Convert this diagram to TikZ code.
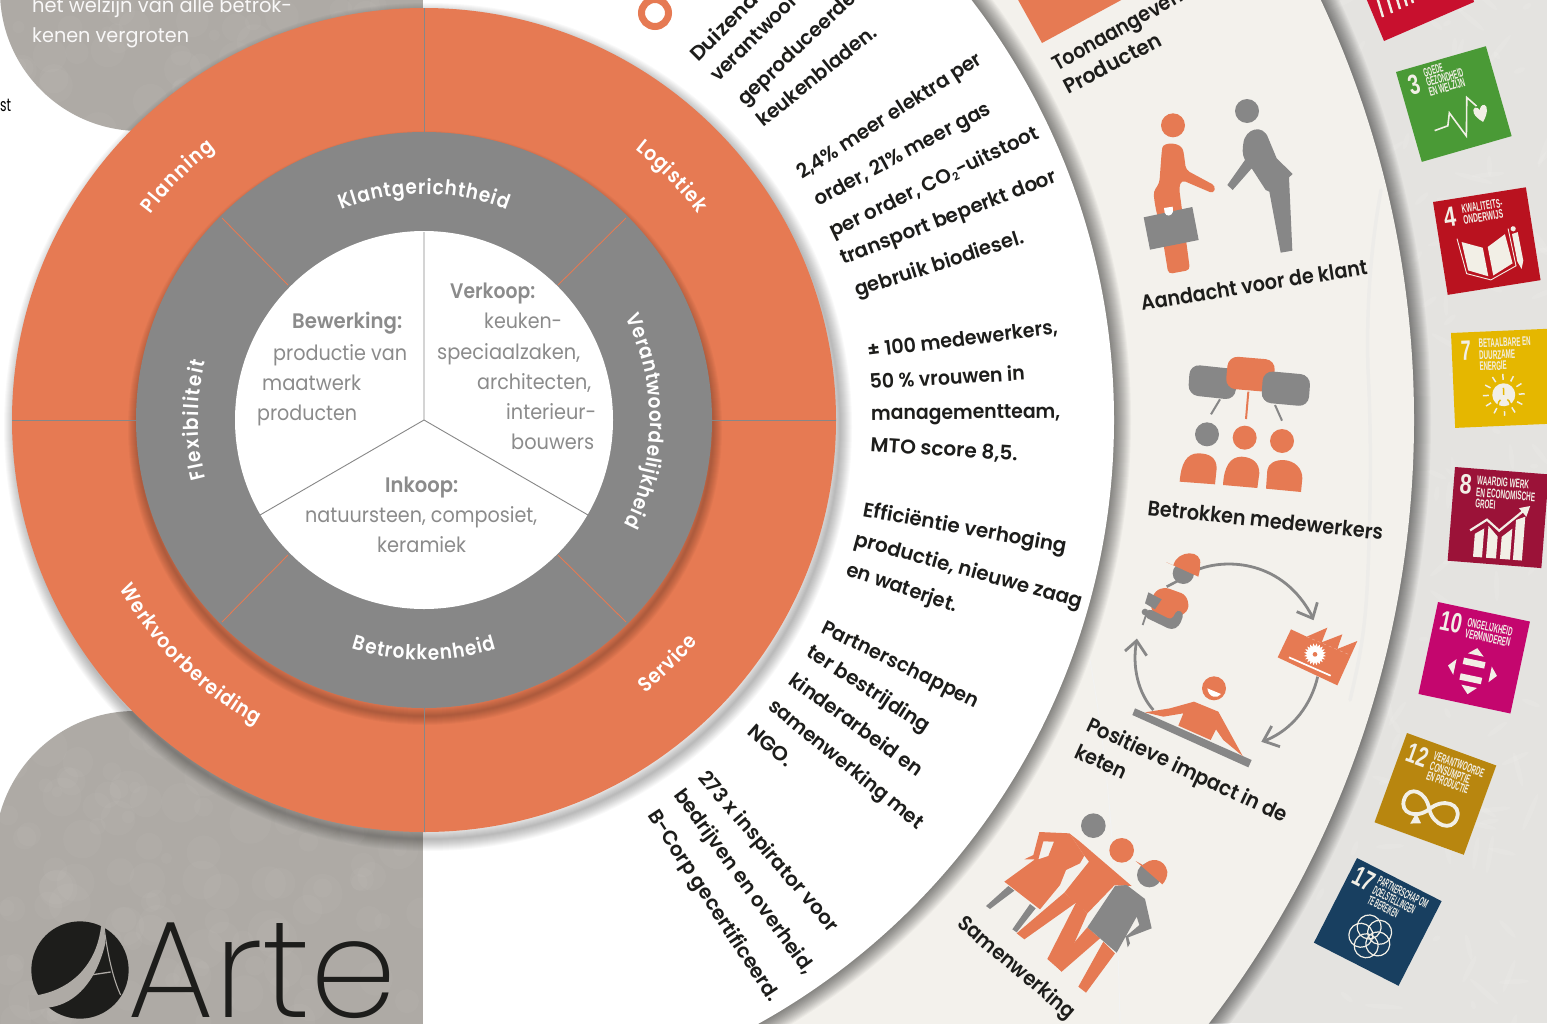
\documentclass[tikz,border=0pt]{standalone}
\usepackage{fontspec}
\usepackage{graphicx}
\usetikzlibrary{decorations.text,shapes.geometric}
\setmainfont{Poppins}
\newfontfamily\medf{Poppins}[UprightFont=* Medium]
\newfontfamily\semif{Poppins}[UprightFont=* SemiBold]
\newfontfamily\ringf{Poppins}[UprightFont=* SemiBold,FakeStretch=0.9]
\newfontfamily\thinf{Poppins}[UprightFont=* ExtraLight]
\newfontfamily\sdgf{Liberation Sans}[UprightFont=* Bold]
\definecolor{orng}{HTML}{E67A53}
\definecolor{grayr}{HTML}{878787}
\definecolor{stonedk}{HTML}{AEAAA5}
\definecolor{stonelt}{HTML}{E4E3E0}
\definecolor{cream}{HTML}{F3F1EC}
\definecolor{inktext}{HTML}{1D1D1B}
\definecolor{graytxt}{HTML}{8B8B8B}
\definecolor{sdgtxt}{HTML}{F2EFE6}
\definecolor{sdgca}{HTML}{C8102E}
\definecolor{sdgc3}{HTML}{4A9A36}
\definecolor{sdgc4}{HTML}{B9121F}
\definecolor{sdgc7}{HTML}{E5B700}
\definecolor{sdgc8}{HTML}{9B1238}
\definecolor{sdgc10}{HTML}{C4066E}
\definecolor{sdgc12}{HTML}{B8860F}
\definecolor{sdgc17}{HTML}{183F60}
\newsavebox\fwbox
\newlength\fwlen
\newcommand\fw[2]{\sbox\fwbox{#2}\setlength\fwlen{\wd\fwbox}\pgfmathsetmacro\fwr{(#1)/\the\fwlen}\scalebox{\fwr}[1]{\usebox\fwbox}}
\newcounter{tn}
\newcommand\slanted[6]{\stepcounter{tn}\pgfmathsetmacro\ang{atan2((#3)-(#5),(#4)-(#2))}\pgfmathsetmacro\len{veclen((#4)-(#2),(#3)-(#5))}\node[#1,rotate=\ang,anchor=base west,inner sep=0pt] (t\thetn) at (#2,#3) {\fw{\len}{#6}};}
\newcommand\softshadow[5]{\foreach \w in {2,4,...,#4}{\draw[black,opacity=#5,line width=\w pt] (#1,#2) circle[radius=#3pt];}}
\newcommand\arclabel[4]{\path[decorate,decoration={text along path,text={|\color{white}\ringf\fontsize{20.5}{22}\selectfont|#4},text align={fit to path}}] (#2:#1pt) arc[start angle=#2,end angle=#3,radius=#1pt];}
\newcommand\sdgnum[4]{\stepcounter{tn}\node[sdgnumf,anchor=base west,inner sep=0pt] (t\thetn) at (#1,#2) {\fw{#3}{#4}};}
\newcommand\sdgt[4]{\stepcounter{tn}\node[sdgtxtf,anchor=base west,inner sep=0pt] (t\thetn) at (#1,#2) {\fw{#3}{#4}};}
\tikzset{
  blk/.style={font=\semif\fontsize{20}{24}\selectfont,text=inktext},
  lbl/.style={font=\semif\fontsize{21}{24}\selectfont,text=inktext},
  gtx/.style={font=\fontsize{21}{24}\selectfont,text=graytxt},
  gtb/.style={font=\semif\fontsize{21}{24}\selectfont,text=graytxt},
  wht/.style={font=\fontsize{20}{24}\selectfont,text=white!92!stonedk},
  blkplain/.style={font=\fontsize{18}{20}\selectfont,text=black},
  sdgnumf/.style={font=\sdgf\fontsize{28}{28}\selectfont,text=sdgtxt,transform shape},
  sdgtxtf/.style={font=\sdgf\fontsize{12.5}{13}\selectfont,text=sdgtxt,transform shape},
  zoomed/.style={x=0.33333pt,y=-0.33333pt},
  arcg/.style={draw=grayr,line width=2.8pt,line cap=butt},
  sdgw/.style={fill=sdgtxt,draw=none},
  sdgl/.style={draw=sdgtxt,fill=none}
}
\begin{document}
\begin{tikzpicture}[x=1pt,y=-1pt]
\useasboundingbox (0,0) rectangle (1547,1023);
\begin{scope}
\clip (0,0) rectangle (1547,1023);
\fill[white] (0,0) rectangle (1547,1023);
% right half: stone, cream ring, white ring
\begin{scope}
\clip (423,0) rectangle (1547,1023);
\fill[stonelt] (423,0) rectangle (1547,1023);
\pgfmathsetseed{11}
\foreach \i in {1,...,170}{\pgfmathsetmacro\px{1320+rnd*227}\pgfmathsetmacro\py{rnd*1023}\pgfmathsetmacro\pa{rnd*180}\pgfmathsetmacro\pr{4+rnd*16}
 \fill[white,opacity=.09,rotate around={\pa:(\px,\py)}] (\px,\py) ellipse[x radius=\pr pt,y radius=2.5pt];}
\softshadow{424}{420}{990}{34}{.03}
\fill[cream] (424,420) circle[radius=990pt];
\draw[black!10,opacity=.4,line width=3.5pt,line cap=round] (1381,190) .. controls (1372,240) and (1366,300) .. (1368,370) .. controls (1372,440) and (1370,520) .. (1368,570) .. controls (1366,620) and (1362,650) .. (1350,700);
\draw[black!5,line width=1pt] (1090,660) .. controls (1100,720) and (1115,800) .. (1120,1023);
\softshadow{424}{420}{690}{34}{.03}
\fill[white] (424,420) circle[radius=690pt];
\end{scope}
% stone blocks on the left
\begin{scope}
\path[clip] (-5,-9) -- (0,-9) arc[start angle=180,end angle=270,radius=140pt] -- (423,132) -- (423,-5) -- (-5,-5) -- cycle;
\fill[stonedk] (-5,-10) rectangle (423,140);
\pgfmathsetseed{5}
\foreach \i in {1,...,60}{\pgfmathsetmacro\px{rnd*423}\pgfmathsetmacro\py{rnd*132}\pgfmathsetmacro\pr{5+rnd*14}
 \fill[white,opacity=.03] (\px,\py) circle[radius=\pr pt];}
\end{scope}
\begin{scope}
\path[clip] (-10,1030) -- (-10,851) -- (-5,851) arc[start angle=180,end angle=90,radius=140pt] -- (423,711) -- (423,1030) -- cycle;
\fill[stonedk] (-10,700) rectangle (423,1030);
\pgfmathsetseed{9}
\foreach \i in {1,...,140}{\pgfmathsetmacro\px{rnd*423}\pgfmathsetmacro\py{711+rnd*312}\pgfmathsetmacro\pr{5+rnd*16}
 \fill[white,opacity=.03] (\px,\py) circle[radius=\pr pt];}
\end{scope}
% rings
\softshadow{428}{427}{412}{24}{.025}
\fill[orng] (424,420) circle[radius=412pt];
\softshadow{425}{428}{288}{18}{.028}
\fill[grayr] (424,420) circle[radius=288pt];
\fill[white] (424,420) circle[radius=189pt];
\draw[grayr,line width=.9pt] (424,8) -- (424,133) (424,707) -- (424,832) (12,420) -- (136,420) (712,420) -- (836,420);
\draw[orng,line width=.9pt] (222,218) -- (288,285) (626,218) -- (558,285) (288,555) -- (222,622) (558,555) -- (626,622);
\draw[grayr,line width=.9pt] (424,232) -- (424,420) (424,420) -- (260,515) (424,420) -- (588,515);
% ring labels
\begin{scope}[shift={(424,420)},x=1pt,y=1pt]
\arclabel{226}{111.5}{68.5}{Klantgerichtheid}
\arclabel{226}{195}{165}{Flexibiliteit}
\arclabel{226}{27}{-27.5}{Verantwoordelijkheid}
\arclabel{240}{252.5}{287.5}{Betrokkenheid}
\arclabel{342}{143}{127.5}{Planning}
\arclabel{343}{52}{37}{Logistiek}
\arclabel{352}{-51}{-39}{Service}
\arclabel{348}{209}{241.2}{Werkvoorbereiding}
\end{scope}
% inner circle text
\slanted{gtb}{292}{328}{402}{328}{Bewerking:}
\slanted{gtx}{273}{360}{407}{360}{productie van}
\slanted{gtx}{262}{390}{361}{390}{maatwerk}
\slanted{gtx}{257}{420}{357}{420}{producten}
\slanted{gtb}{450}{298}{535}{298}{Verkoop:}
\slanted{gtx}{484}{328}{562}{328}{keuken-}
\slanted{gtx}{437}{359}{580}{359}{speciaalzaken,}
\slanted{gtx}{477}{389}{591}{389}{architecten,}
\slanted{gtx}{506}{419}{596}{419}{interieur-}
\slanted{gtx}{511}{449}{594}{449}{bouwers}
\slanted{gtb}{385}{492}{458}{492}{Inkoop:}
\slanted{gtx}{305}{522}{537}{522}{natuursteen, composiet,}
\slanted{gtx}{377}{552}{466}{552}{keramiek}
% top left
\slanted{wht}{32}{12}{292}{12}{het welzijn van alle betrok-}
\slanted{wht}{32}{42}{189}{42}{kenen vergroten}
\slanted{blkplain}{0}{111}{11}{111}{st}
% white ring text
\draw[orng,line width=7pt] (655,13) circle[radius=13.5pt];
\slanted{blk}{698}{63}{779}{-18}{Duizenden}
\slanted{blk}{718}{83}{808}{-7}{verantwoord}
\slanted{blk}{745}{107}{857}{0}{geproduceerde}
\slanted{blk}{763}{128}{878}{35}{keukenbladen.}
\slanted{blk}{802}{180}{983}{63}{2,4\% meer elektra per}
\slanted{blk}{818}{207}{992}{113}{order, 21\% meer gas}
\slanted{blk}{833}{238}{1040}{138}{per order, CO\raisebox{-2.5pt}{\fontsize{11}{11}\selectfont 2}-uitstoot}
\slanted{blk}{843}{265}{1058}{182}{transport beperkt door}
\slanted{blk}{857}{297}{1025}{243}{gebruik biodiesel.}
\slanted{blk}{868}{358}{1058}{334}{± 100 medewerkers,}
\slanted{blk}{870}{389}{1025}{380}{50 \% vrouwen in}
\slanted{blk}{871}{420}{1060}{418}{managementteam,}
\slanted{blk}{870}{451}{1017}{461}{MTO score 8,5.}
\slanted{blk}{862}{516}{1065}{553}{Efficiëntie verhoging}
\slanted{blk}{853}{545}{1080}{608}{productie, nieuwe zaag}
\slanted{blk}{845}{575}{955}{612}{en waterjet.}
\slanted{blk}{820}{632}{975}{708}{Partnerschappen}
\slanted{blk}{805}{655}{925}{733}{ter bestrijding}
\slanted{blk}{787}{683}{917}{777}{kinderarbeid en}
\slanted{blk}{767}{708}{917}{830}{samenwerking met}
\slanted{blk}{746}{733}{786}{768}{NGO.}
\slanted{blk}{697}{778}{830}{933}{273 x inspirator voor}
\slanted{blk}{673}{795}{805}{975}{bedrijven en overheid,}
\slanted{blk}{647}{815}{770}{1003}{B-Corp gecertificeerd.}
% cream ring labels
\fill[orng] (1017,-2) -- (1042,43) -- (1125,-2) -- cycle;
\slanted{lbl}{1057}{72}{1205}{-11}{Toonaangevende}
\slanted{lbl}{1068}{95}{1163}{45}{Producten}
\slanted{lbl}{1142}{311}{1368}{274}{Aandacht voor de klant}
\slanted{lbl}{1147}{515}{1382}{540}{Betrokken medewerkers}
\slanted{lbl}{1085}{730}{1283}{823}{Positieve impact in de}
\slanted{lbl}{1073}{757}{1123}{780}{keten}
\slanted{lbl}{956}{925}{1068}{1020}{Samenwerking}
% icon: Aandacht voor de klant
\begin{scope}[shift={(1100,80)},zoomed]
\fill[orng] (219,136) circle[radius=36];
\fill[orng,rounded corners=4pt] (185,215) .. controls (190,185) and (245,185) .. (252,225) -- (258,270) -- (347,318) -- (341,341) -- (245,300) -- (237,322) -- (270,570) -- (205,582) -- (190,490) -- (165,375) -- (160,335) -- (178,310) -- cycle;
\fill[grayr] (131,412) -- (277,381) -- (296,480) -- (150,509) -- cycle;
\fill[white] (192,384) -- (218,380) -- (219,395) .. controls (215,410) and (198,410) .. (194,398) -- cycle;
\fill[grayr] (441,93) circle[radius=36];
\fill[grayr] (430,190) .. controls (435,145) and (490,130) .. (505,175) -- (530,235) -- (578,282) -- (567,292) -- (577,512) -- (542,518) -- (508,335) -- (497,330) -- (455,265) -- (398,330) -- (382,315) -- (435,240) .. controls (425,220) and (428,205) .. (430,190) -- cycle;
\end{scope}
% icon: Betrokken medewerkers
\begin{scope}[shift={(1100,80)},zoomed]
\draw[grayr,line width=2pt] (360,958) -- (333,1003) (525,975) -- (546,1022);
\draw[orng,line width=2pt] (445,935) -- (438,1017);
\fill[grayr,rounded corners=10pt] (270,853) -- (412,868) -- (405,960) -- (264,945) -- cycle;
\fill[orng,rounded corners=10pt] (385,828) -- (527,840) -- (517,937) -- (376,925) -- cycle;
\fill[grayr,rounded corners=10pt] (490,872) -- (632,885) -- (625,980) -- (483,967) -- cycle;
\fill[grayr] (321,1063) circle[radius=36];
\fill[orng] (434,1073) circle[radius=36];
\fill[orng] (546,1083) circle[radius=36];
\fill[orng] (239,1205) .. controls (243,1150) and (260,1120) .. (295,1120) .. controls (330,1120) and (350,1135) .. (350,1165) -- (345,1213) -- cycle;
\fill[orng] (369,1215) .. controls (372,1160) and (390,1130) .. (425,1130) .. controls (460,1132) and (478,1150) .. (478,1180) -- (472,1224) -- cycle;
\fill[orng] (498,1226) -- (502,1170) .. controls (505,1150) and (525,1140) .. (550,1140) .. controls (585,1142) and (607,1165) .. (607,1195) -- (603,1236) -- cycle;
\end{scope}
% icon: Positieve impact
\begin{scope}[shift={(1120,540)},zoomed]
\draw[arcg] (235,88) .. controls (320,55) and (490,60) .. (578,232);
\draw[arcg] (530,215) -- (578,235) -- (592,187);
\draw[arcg] (593,410) .. controls (575,490) and (520,570) .. (432,603);
\draw[arcg] (480,620) -- (430,603) -- (455,558);
\draw[arcg] (100,510) .. controls (55,460) and (35,380) .. (50,302);
\draw[arcg] (15,333) -- (50,302) -- (80,347);
\draw[grayr,line width=2.6pt] (140,140) -- (175,122);
\fill[grayr] (190,100) circle[radius=32];
\fill[orng] (138,66) -- (160,76) .. controls (172,28) and (250,28) .. (240,75) .. controls (240,90) and (238,100) .. (235,110) -- cycle;
\fill[orng,rounded corners=6pt] (92,215) -- (98,160) -- (130,140) -- (200,165) -- (208,210) -- (155,245) -- cycle;
\fill[grayr] (85,157) -- (125,178) -- (105,208) -- (75,190) -- cycle;
\fill[grayr] (75,216) circle[radius=10];
\fill[grayr,rounded corners=4pt] (85,205) -- (155,240) -- (172,208) -- (192,220) -- (178,258) -- (155,270) -- (72,230) -- cycle;
\draw[grayr,line width=1.8pt] (78,225) -- (68,255);
\fill[orng] (513,268) -- (560,290) -- (622,263) -- (605,307) -- (667,283) -- (652,327) -- (712,303) -- (652,436) -- (473,352) -- cycle;
\draw[white,opacity=.5,line width=.3pt,dashed] (560,290) -- (690,345);
\fill[white] (585,343) circle[radius=25];
\foreach \a in {0,18,...,342}{\fill[white] ([shift={(585,343)}]\a:24) -- ([shift={(585,343)}]\a+9:33) -- ([shift={(585,343)}]\a+18:24) -- cycle;}
\fill[orng] (585,343) circle[radius=7];
\draw[white,line width=1.7pt] (507,352) -- (632,407);
\fill[orng] (282,445) circle[radius=36];
\fill[white] (262,445) -- (303,462) .. controls (292,478) and (265,472) .. (262,445) -- cycle;
\fill[grayr] (45,505) -- (395,660) -- (385,682) -- (37,525) -- cycle;
\fill[orng] (75,517) -- (150,505) -- (222,485) -- (295,515) -- (368,648) -- (310,600) -- (288,568) -- (272,600) -- (175,557) -- (190,520) -- (130,530) -- cycle;
\end{scope}
% icon: Samenwerking
\begin{scope}[shift={(980,800)},zoomed]
\fill[grayr] (340,77) circle[radius=37];
\fill[orng] (425,151) circle[radius=37];
\fill[grayr] (508,225) circle[radius=37];
\fill[orng] (467,183) -- (490,196) .. controls (510,170) and (555,175) .. (562,215) .. controls (563,230) and (555,245) .. (547,253) -- cycle;
\fill[grayr] (85,258) -- (103,272) -- (30,327) -- (18,318) -- cycle;
\fill[grayr] (150,312) -- (167,325) -- (110,397) -- (97,388) -- cycle;
\fill[orng,even odd rule] (178,96) -- (268,100) -- (313,167) -- (300,190) -- (258,210) -- (240,255) -- (180,328) -- (73,245) -- (165,178) -- (133,178) -- (160,165) -- cycle (190,124) -- (222,125) -- (205,168) -- (175,178) -- cycle;
\fill[orng] (268,100) -- (300,125) -- (455,258) -- (403,256) -- (322,340) -- (253,278) -- (327,185) -- (313,167) -- cycle;
\fill[orng] (253,278) -- (288,308) -- (133,418) -- (110,400) -- cycle;
\fill[orng] (288,308) -- (322,340) -- (245,515) -- (202,477) -- cycle;
\fill[orng] (322,382) -- (360,415) -- (245,515) -- (225,495) -- cycle;
\fill[orng] (370,425) -- (405,460) -- (318,578) -- (295,560) -- cycle;
\fill[grayr] (322,382) -- (405,258) -- (440,255) -- (495,297) -- (515,385) -- (445,412) -- (450,430) -- (443,442) -- (437,410) -- (478,375) -- (470,350) -- (410,458) -- cycle;
\end{scope}
% SDG 1 (cut off)
\fill[sdgca] (1366,-2) -- (1384,41) -- (1474,2) -- (1473,-2) -- cycle;
\foreach \xx/\yy in {1383/17,1392/13,1400/9,1407/6,1413/3}{\draw[sdgtxt,line width=2.4pt] (\xx,\yy) -- ++(-6,-20);}
% SDG 3
\begin{scope}[shift={(1396,72)},rotate=16]
\fill[sdgc3] (0,0) rectangle (93.5,93.5);
\sdgnum{8}{27}{11}{3}
\sdgt{26}{13}{20}{GOEDE}
\sdgt{26}{23}{38}{GEZONDHEID}
\sdgt{26}{33}{37}{EN WELZIJN}
\draw[sdgtxt,line width=1.6pt] (21,67) -- (35,66) -- (40,54) -- (50,81) -- (61,44) -- (68,55);
\fill[sdgtxt] (70,72) .. controls (62,64) and (62,57) .. (66,56) .. controls (68,56) and (70,58) .. (70,60) .. controls (71,57) and (73,55) .. (76,56) .. controls (79,58) and (77,65) .. (70,72) -- cycle;
\end{scope}
% SDG 4
\begin{scope}[shift={(1433,202)},rotate=9]
\fill[sdgc4] (0,0) rectangle (94,94);
\sdgnum{8}{27}{12}{4}
\sdgt{27}{16}{41}{KWALITEITS-}
\sdgt{27}{27}{40}{ONDERWIJS}
\fill[sdgw] (22,44) -- (42,53) -- (43,82) -- (24,73) -- cycle (47,53) -- (66,43) -- (69,73) -- (48,82) -- cycle;
\draw[sdgl,line width=.9pt] (18,40) -- (22,76) -- (45,86) -- (72,76) -- (70,38);
\fill[sdgw] (73,44) -- (79,43) -- (80,72) -- (77,80) -- (74,72) -- cycle;
\fill[sdgw] (75,39) circle[radius=2.6pt];
\end{scope}
% SDG 7
\begin{scope}[shift={(1451,333)},rotate=2.5]
\fill[sdgc7] (0,0) rectangle (96,95);
\sdgnum{9}{28}{10}{7}
\sdgt{27}{16}{52}{BETAALBARE EN}
\sdgt{27}{28}{36}{DUURZAME}
\sdgt{27}{39}{27}{ENERGIE}
\fill[sdgtxt] (50,64) circle[radius=11.5pt];
\foreach \a in {0,30,...,330}{\draw[sdgtxt,line width=1.5pt] ([shift={(50,64)}]\a:15) -- ([shift={(50,64)}]\a:21);}
\draw[sdgc7,line width=1.5pt] ([shift={(50,64)}]55:6) arc[start angle=55,end angle=-235,radius=6pt];
\draw[sdgc7,line width=1.5pt] (50,57) -- (50,64);
\end{scope}
% SDG 8
\begin{scope}[shift={(1455,467)},rotate=-4.5]
\fill[sdgc8] (0,0) rectangle (94,94);
\sdgnum{6}{26}{12}{8}
\sdgt{23}{16}{52}{WAARDIG WERK}
\sdgt{23}{28}{59}{EN ECONOMISCHE}
\sdgt{23}{39}{20}{GROEI}
\fill[sdgw] (25,65) -- (34,59) -- (34,88) -- (25,88) -- cycle (38,56) -- (48,66) -- (48,88) -- (38,88) -- cycle (52,66) -- (62,57) -- (62,88) -- (52,88) -- cycle (65,48) -- (74,44) -- (74,88) -- (65,88) -- cycle;
\draw[sdgl,line width=2.2pt] (20,62) -- (36,50) -- (49,60) -- (72,38);
\fill[sdgw] (67,36) -- (78,33) -- (75,44) -- cycle;
\end{scope}
% SDG 10
\begin{scope}[shift={(1438,602)},rotate=-12]
\fill[sdgc10] (0,0) rectangle (94,94);
\sdgnum{6}{27}{22}{10}
\sdgt{33}{18}{46}{ONGELIJKHEID}
\sdgt{33}{29}{46}{VERMINDEREN}
\fill[sdgw] (48,37) -- (56,44) -- (40,44) -- cycle (48,84) -- (56,76) -- (40,76) -- cycle (23,60) -- (30,52) -- (30,68) -- cycle (73,60) -- (66,52) -- (66,68) -- cycle;
\fill[sdgw] (37,49) rectangle (59,55.5) (37,65) rectangle (59,71.5);
\end{scope}
% SDG 12
\begin{scope}[shift={(1407,733)},rotate=-20]
\fill[sdgc12] (0,0) rectangle (95,95);
\sdgnum{7}{27}{21}{12}
\sdgt{33}{16}{53}{VERANTWOORDE}
\sdgt{33}{27}{42}{CONSUMPTIE}
\sdgt{33}{37}{44}{EN PRODUCTIE}
\draw[sdgl,line width=3.8pt] (47,64) .. controls (38,48) and (20,48) .. (20,63) .. controls (20,78) and (38,78) .. (47,64) .. controls (56,48) and (76,48) .. (76,63) .. controls (76,78) and (56,78) .. (47,64);
\fill[sdgw] (36,72) -- (44,80) -- (34,84) -- cycle;
\end{scope}
% SDG 17
\begin{scope}[shift={(1357,858)},rotate=-27]
\fill[sdgc17] (0,0) rectangle (95,95);
\sdgnum{5}{25}{21}{17}
\sdgt{29}{14}{55}{PARTNERSCHAP OM}
\sdgt{29}{25}{46}{DOELSTELLINGEN}
\sdgt{29}{36}{33}{TE BEREIKEN}
\foreach \a in {90,162,234,306,378}{\draw[sdgl,line width=1.2pt] ([shift={(48,64)}]\a:10) circle[radius=12pt];}
\end{scope}
% logo
\begin{scope}[shift={(0,880)},zoomed]
\fill[inktext] (240,270) circle[radius=146];
\fill[stonedk] (85,345) -- (115,345) .. controls (220,325) and (290,250) .. (303,140) -- (312,130) -- (316,190) .. controls (290,300) and (230,370) .. (150,382) -- (90,395) -- cycle;
\draw[stonedk,line width=1.1pt] (312,140) .. controls (322,220) and (340,300) .. (362,345);
\draw[stonedk,line width=1.3pt] (278,284) -- (332,276);
\end{scope}
\stepcounter{tn}\node[font=\thinf\fontsize{138}{140}\selectfont,text=inktext,anchor=base west,inner sep=0pt] (t\thetn) at (127,1017) {\fw{270}{Arte}};
\end{scope}
\end{tikzpicture}
\end{document}
